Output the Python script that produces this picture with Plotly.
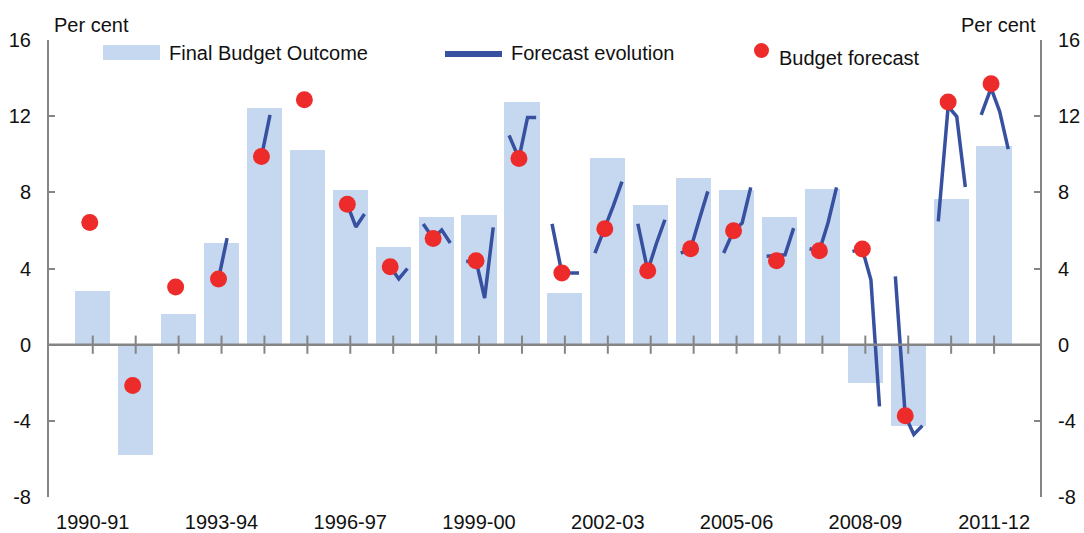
import plotly.graph_objects as go

# ---------------- data ----------------
years = ["1990-91", "1991-92", "1992-93", "1993-94", "1994-95", "1995-96",
         "1996-97", "1997-98", "1998-99", "1999-00", "2000-01", "2001-02",
         "2002-03", "2003-04", "2004-05", "2005-06", "2006-07", "2007-08",
         "2008-09", "2009-10", "2010-11", "2011-12"]

final_budget_outcome = [2.83, -5.77, 1.63, 5.34, 12.42, 10.2, 8.1, 5.14, 6.72, 6.82,
                        12.76, 2.71, 9.78, 7.35, 8.73, 8.1, 6.72, 8.2, -2.01, -4.25,
                        7.66, 10.41]

budget_forecast = [6.42, -2.15, 3.03, 3.45, 9.88, 12.86, 7.37, 4.09, 5.58, 4.41,
                   9.78, 3.76, 6.09, 3.88, 5.04, 5.98, 4.41, 4.93, 5.02, -3.73,
                   12.74, 13.7]

# forecast evolution: four successive estimates per year (None = not shown)
forecast_evolution = [
    [None, None, None, None],
    [None, None, None, None],
    [None, None, None, None],
    [None, 3.45, 5.6, None],
    [None, 9.88, 12.07, None],
    [None, None, None, None],
    [None, 7.37, 6.18, 6.86],
    [None, 4.09, 3.45, 4.0],
    [6.34, 5.58, 6.02, 5.34],
    [4.37, 4.41, 2.45, 6.16],
    [10.99, 9.78, 11.93, 11.93],
    [6.34, 3.76, 3.76, 3.76],
    [4.81, 6.09, 7.3, 8.56],
    [6.35, 3.88, 5.3, 6.56],
    [4.81, 5.04, 6.56, 8.05],
    [4.81, 5.98, 6.39, 8.26],
    [4.64, 4.68, 4.72, 6.12],
    [5.04, 4.93, 6.39, 8.26],
    [4.9, 5.02, 3.41, -3.24],
    [3.59, -3.73, -4.72, -4.25],
    [6.47, 12.51, 11.98, 8.28],
    [12.07, 13.47, 12.25, 10.27],
]

label_years = years[::3]
y_ticks = [-8, -4, 0, 4, 8, 12, 16]
y_tick_text = ["-8", "-4", "0", "4", "8", "12", "16"]

# ---------------- styling ----------------
BAR_COLOR = "#c6d8ef"
LINE_COLOR = "#37509f"
DOT_COLOR = "#ee2b2b"
AXIS_COLOR = "#858585"
TEXT_COLOR = "#111111"
FONT = "Liberation Sans, Arial, sans-serif"
FS = 20

W, H = 1084, 533
L, R, T, B = 49, 1040, 40, 497   # plot area in pixels
EVOL_OFFSETS = [-0.30, -0.07, 0.13, 0.33]
DOT_OFFSET = -0.07

idx = list(range(len(years)))

def px(x):
    return (x - L) / (R - L)

def py(y):
    return (B - y) / (B - T)

# build line trace with gaps
lx, ly = [], []
for i, vals in enumerate(forecast_evolution):
    for off, v in zip(EVOL_OFFSETS, vals):
        lx.append(i + off)
        ly.append(v)
    lx.append(None)
    ly.append(None)

fig = go.Figure()

fig.add_trace(go.Bar(x=idx, y=final_budget_outcome, width=0.82,
                     marker=dict(color=BAR_COLOR, line=dict(width=0)),
                     name="Final Budget Outcome", showlegend=False))

# zero line and category ticks
fig.add_shape(type="line", xref="paper", yref="y", x0=0, x1=1, y0=0, y1=0,
              line=dict(color=AXIS_COLOR, width=2.5), layer="above")
fig.add_trace(go.Scatter(x=idx, y=[0] * len(idx), mode="markers",
                         marker=dict(symbol="line-ns-open", size=13, color=AXIS_COLOR,
                                     line=dict(color=AXIS_COLOR, width=2)),
                         hoverinfo="skip", showlegend=False, cliponaxis=False))

fig.add_trace(go.Scatter(x=lx, y=ly, mode="lines", connectgaps=False,
                         line=dict(color=LINE_COLOR, width=3.5),
                         name="Forecast evolution", showlegend=False))

fig.add_trace(go.Scatter(x=[i + DOT_OFFSET for i in idx], y=budget_forecast,
                         mode="markers", marker=dict(color=DOT_COLOR, size=17),
                         name="Budget forecast", showlegend=False))

# dummy trace for right axis
fig.add_trace(go.Scatter(x=[None], y=[None], yaxis="y2", showlegend=False))

yaxis_common = dict(range=[-8, 16], tickvals=y_ticks, ticktext=y_tick_text,
                    ticks="inside", ticklen=6,
                    tickwidth=1.5, tickcolor=AXIS_COLOR, showline=True,
                    linecolor=AXIS_COLOR, linewidth=2, showgrid=False,
                    zeroline=False, automargin=False,
                    tickfont=dict(family=FONT, size=FS, color=TEXT_COLOR),
                    ticklabelstandoff=12)

fig.update_layout(
    width=W, height=H,
    margin=dict(l=L, r=W - R, t=T, b=H - B, autoexpand=False),
    paper_bgcolor="white", plot_bgcolor="white",
    bargap=0,
    xaxis=dict(range=[-1.02, 22.07], tickvals=idx[::3], ticktext=label_years,
               showgrid=False, zeroline=False, showline=False, automargin=False,
               ticks="outside", ticklen=7, tickcolor="rgba(0,0,0,0)",
               tickfont=dict(family=FONT, size=FS, color=TEXT_COLOR)),
    yaxis=dict(**yaxis_common, side="left"),
    yaxis2=dict(**yaxis_common, side="right", overlaying="y"),
    font=dict(family=FONT, size=FS, color=TEXT_COLOR),
)

# axis unit labels
fig.add_annotation(text="Per cent", xref="paper", yref="paper", x=px(52), y=py(25),
                   xanchor="left", yanchor="middle", showarrow=False,
                   font=dict(family=FONT, size=FS, color=TEXT_COLOR))
fig.add_annotation(text="Per cent", xref="paper", yref="paper", x=px(1038), y=py(25),
                   xanchor="right", yanchor="middle", showarrow=False,
                   font=dict(family=FONT, size=FS, color=TEXT_COLOR))

# manual legend
fig.add_shape(type="rect", xref="paper", yref="paper",
              x0=px(103), x1=px(160), y0=py(60), y1=py(45),
              fillcolor=BAR_COLOR, line=dict(width=0))
fig.add_annotation(text="Final Budget Outcome", xref="paper", yref="paper",
                   x=px(167), y=py(53), xanchor="left", yanchor="middle",
                   showarrow=False, font=dict(family=FONT, size=FS, color=TEXT_COLOR))
fig.add_shape(type="line", xref="paper", yref="paper",
              x0=px(445), x1=px(502), y0=py(54), y1=py(54),
              line=dict(color=LINE_COLOR, width=6))
fig.add_annotation(text="Forecast evolution", xref="paper", yref="paper",
                   x=px(509), y=py(53), xanchor="left", yanchor="middle",
                   showarrow=False, font=dict(family=FONT, size=FS, color=TEXT_COLOR))
fig.add_shape(type="circle", xref="paper", yref="paper",
              x0=px(754), x1=px(769), y0=py(58), y1=py(43),
              fillcolor=DOT_COLOR, line=dict(width=0))
fig.add_annotation(text="Budget forecast", xref="paper", yref="paper",
                   x=px(777), y=py(58), xanchor="left", yanchor="middle",
                   showarrow=False, font=dict(family=FONT, size=FS, color=TEXT_COLOR))

fig.write_html("out.html", config={"displayModeBar": False},
               post_script="document.body.style.margin='0px';document.body.style.padding='0px';")
